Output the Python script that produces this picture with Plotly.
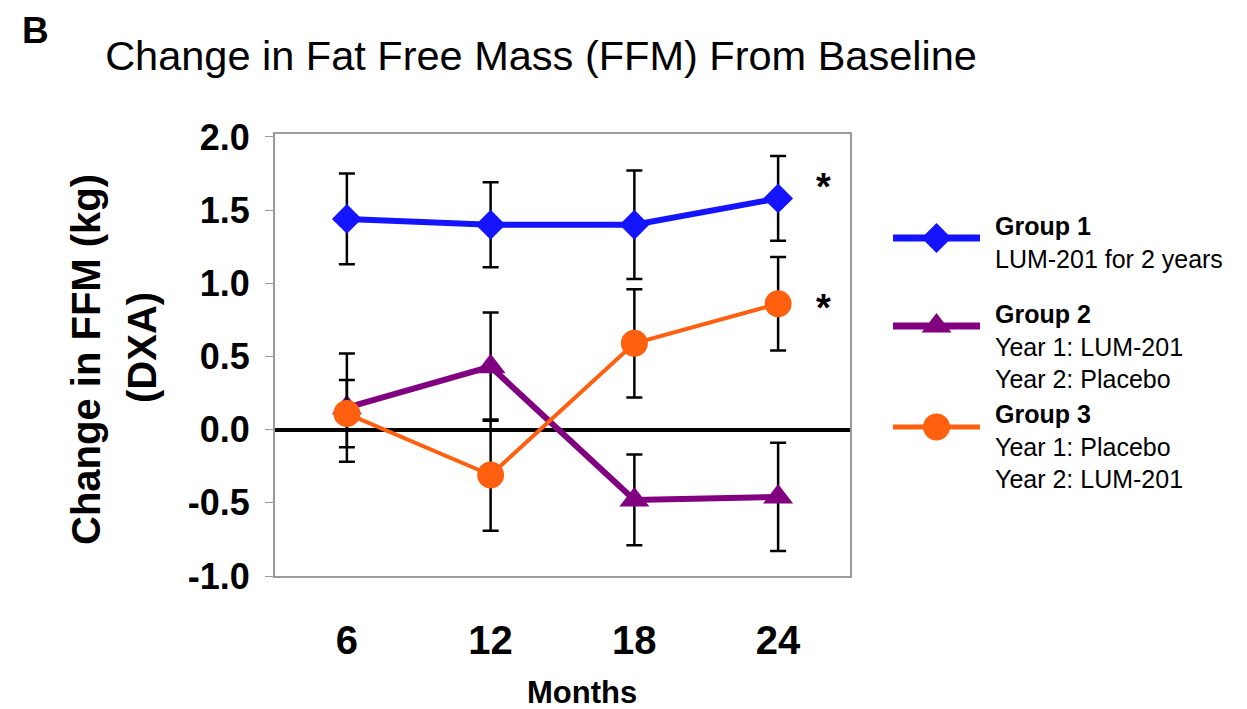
import plotly.graph_objects as go

# ---------------- data ----------------
months = [6, 12, 18, 24]
month_labels = ["6", "12", "18", "24"]

group1_mean = [1.44, 1.40, 1.40, 1.58]
group1_err = [0.31, 0.29, 0.37, 0.29]

group2_mean = [0.15, 0.43, -0.48, -0.46]
group2_err = [0.37, 0.37, 0.31, 0.37]

group3_mean = [0.11, -0.31, 0.59, 0.86]
group3_err = [0.23, 0.38, 0.37, 0.32]

group_names = ["Group 1", "Group 2", "Group 3"]
group_desc = [
    ["LUM-201 for 2 years"],
    ["Year 1: LUM-201", "Year 2: Placebo"],
    ["Year 1: Placebo", "Year 2: LUM-201"],
]
y_ticks = [-1.0, -0.5, 0.0, 0.5, 1.0, 1.5, 2.0]
y_tick_labels = ["-1.0", "-0.5", "0.0", "0.5", "1.0", "1.5", "2.0"]
star_y = [1.66, 0.83]          # significance markers beside month 24

# ---------------- styles ----------------
W, H = 1247, 709
PAGE_OFFSET = 8   # default page margin around the figure
FONT = "Liberation Sans, Arial, sans-serif"
colors = ["#1414FF", "#800080", "#FF6010"]
symbols = ["diamond", "triangle-up", "circle"]
msizes = [23, 26, 27]
lwidths = [6, 6, 4]

def px_x(p):
    return (p - PAGE_OFFSET) / W

def px_y(p):
    return 1 - (p - PAGE_OFFSET) / H

fig = go.Figure()

series = [(group1_mean, group1_err), (group2_mean, group2_err), (group3_mean, group3_err)]
for i, (m, e) in enumerate(series):
    fig.add_trace(go.Scatter(
        x=months, y=m, mode="lines+markers", name=group_names[i],
        line=dict(color=colors[i], width=lwidths[i]),
        marker=dict(symbol=symbols[i], size=msizes[i], color=colors[i],
                    line=dict(width=0)),
        error_y=dict(type="data", array=e, visible=True, color="black",
                     thickness=2.5, width=8),
        showlegend=False,
    ))

# ---- hand-drawn legend on an overlay axis (pixel-like units) ----
legend_rows = [238, 326, 427]
for i, yrow in enumerate(legend_rows):
    fig.add_trace(go.Scatter(
        x=[0, 0.5, 1], y=[yrow - PAGE_OFFSET] * 3, mode="lines",
        line=dict(color=colors[i], width=lwidths[i] + 1),
        xaxis="x2", yaxis="y2", showlegend=False, hoverinfo="skip"))
    fig.add_trace(go.Scatter(
        x=[0.5], y=[yrow - PAGE_OFFSET], mode="markers",
        marker=dict(symbol=symbols[i], size=msizes[i], color=colors[i]),
        xaxis="x2", yaxis="y2", showlegend=False, hoverinfo="skip"))

legend_text_top = [210, 298, 398]
annotations = []
for i in range(3):
    txt = "<b>" + group_names[i] + "</b><br>" + "<br>".join(group_desc[i])
    annotations.append(dict(
        text=txt, xref="paper", yref="paper", x=px_x(993), y=px_y(legend_text_top[i]),
        xanchor="left", yanchor="top", align="left", showarrow=False,
        font=dict(family=FONT, size=25, color="black")))

for sy in star_y:
    annotations.append(dict(
        text="<b>*</b>", xref="x", yref="y", x=25.9, y=sy, showarrow=False,
        xanchor="center", yanchor="middle",
        font=dict(family=FONT, size=38, color="black")))

annotations += [
    dict(text="<b>B</b>", xref="paper", yref="paper", x=px_x(35), y=1.0,
         xanchor="center", yanchor="top", showarrow=False,
         font=dict(family=FONT, size=37, color="black")),
    dict(text="<b>Change in FFM (kg)</b>", xref="paper", yref="paper",
         x=px_x(86), y=px_y(360), textangle=-90, showarrow=False,
         xanchor="center", yanchor="middle",
         font=dict(family=FONT, size=40, color="black")),
    dict(text="<b>(DXA)</b>", xref="paper", yref="paper",
         x=px_x(142), y=px_y(348), textangle=-90, showarrow=False,
         xanchor="center", yanchor="middle",
         font=dict(family=FONT, size=40, color="black")),
    dict(text="<b>Months</b>", xref="paper", yref="paper",
         x=px_x(582), y=px_y(692), showarrow=False,
         xanchor="center", yanchor="middle",
         font=dict(family=FONT, size=31, color="black")),
]

fig.update_layout(
    template="none",
    width=W, height=H,
    margin=dict(l=0, r=0, t=0, b=0, pad=0, autoexpand=False),
    paper_bgcolor="white", plot_bgcolor="white",
    font=dict(family=FONT, color="black"),
    title=dict(text="Change in Fat Free Mass (FFM) From Baseline",
               x=px_x(541), y=px_y(55), xanchor="center", yanchor="middle",
               xref="paper", yref="paper",
               font=dict(family=FONT, size=41.5, color="black")),
    xaxis=dict(domain=[px_x(275), px_x(850)], range=[3, 27], automargin=False,
               tickvals=months, ticktext=["<b>%s</b>" % t for t in month_labels],
               tickfont=dict(family=FONT, size=40, color="black"),
               ticks="", ticklabelstandoff=28,
               showgrid=False, zeroline=False,
               showline=True, linecolor="#9a9a9a", linewidth=2, mirror=True),
    yaxis=dict(domain=[px_y(576), px_y(134)], range=[-1.0, 2.02], automargin=False,
               tickvals=y_ticks, ticktext=["<b>%s</b>" % t for t in y_tick_labels],
               tickfont=dict(family=FONT, size=36, color="black"),
               ticks="outside", ticklen=8, tickcolor="#9a9a9a", tickwidth=1,
               ticklabelstandoff=8,
               showgrid=False, zeroline=True, zerolinecolor="black", zerolinewidth=4,
               showline=True, linecolor="#9a9a9a", linewidth=2, mirror=True),
    xaxis2=dict(domain=[px_x(893), px_x(980)], range=[0, 1], visible=False,
                anchor="y2", automargin=False),
    yaxis2=dict(domain=[0, 1], range=[H, 0], visible=False, anchor="x2",
                automargin=False),
    annotations=annotations,
)

fig.write_html("out.html")
